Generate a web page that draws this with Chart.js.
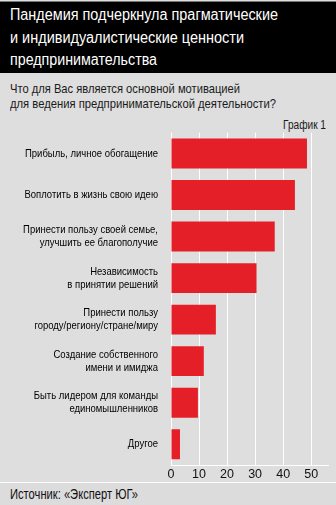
<!DOCTYPE html>
<html><head><meta charset="utf-8">
<script src="https://cdn.jsdelivr.net/npm/chart.js@4"></script>
<style>
html,body{margin:0;padding:0;}
body{width:336px;height:505px;background:#dedede;position:relative;overflow:hidden;font-family:"Liberation Sans",Arial,sans-serif;}
#head{position:absolute;left:0;top:1px;width:336px;height:71px;background:#000;border-top:1px solid #777;}
#head div{position:absolute;left:10px;color:#fff;font-size:16px;white-space:nowrap;transform-origin:0 0;}
.sub{position:absolute;left:10px;color:#1a1a1a;font-size:13.5px;white-space:nowrap;transform-origin:0 0;}
#gr{position:absolute;left:283px;top:118px;font-size:12.5px;color:#1a1a1a;white-space:nowrap;transform-origin:0 0;}
#foot{position:absolute;left:0;top:482px;width:336px;height:23px;border-top:1.5px solid #fff;background:#dcdcdc;}
#foot span{position:absolute;left:10px;top:3px;font-size:14px;color:#111;white-space:nowrap;transform-origin:0 0;}
#wrap{position:absolute;left:0;top:120px;width:336px;height:365px;}
</style></head>
<body>
<div id="head">
<div class="fit" data-w="268" style="top:4px">Пандемия подчеркнула прагматические</div>
<div class="fit" data-w="234" style="top:27px">и индивидуалистические ценности</div>
<div class="fit" data-w="147" style="top:49px">предпринимательства</div>
</div>
<div class="sub fit" data-w="230" style="top:81px">Что для Вас является основной мотивацией</div>
<div class="sub fit" data-w="266" style="top:96px">для ведения предпринимательской деятельности?</div>
<div id="gr" class="fit" data-w="43">График 1</div>
<div id="wrap"><canvas id="c"></canvas></div>
<div id="foot"><span class="fit" data-w="128">Источник: «Эксперт ЮГ»</span></div>
<script>
const categories = [
  ["Прибыль, личное обогащение"],
  ["Воплотить в жизнь свою идею"],
  ["Принести пользу своей семье,", "улучшить ее благополучие"],
  ["Независимость", "в принятии решений"],
  ["Принести пользу", "городу/региону/стране/миру"],
  ["Создание собственного", "имени и имиджа"],
  ["Быть лидером для команды", "единомышленников"],
  ["Другое"]
];
const values = [48.5, 44.2, 37, 30.5, 16, 11.7, 9.6, 3.2];
const xTicks = [0, 10, 20, 30, 40, 50];

// condense HTML text horizontally to the reference widths
document.querySelectorAll('.fit').forEach(el => {
  const w = el.getBoundingClientRect().width;
  el.style.transform = 'scaleX(' + (parseFloat(el.dataset.w) / w) + ')';
});

const FONT = '"Liberation Sans", Arial, sans-serif';
const LABEL_SIZE = 11.5;
// horizontal condensing factor for category labels (reference uses a narrow face)
const mctx = document.createElement('canvas').getContext('2d');
mctx.font = LABEL_SIZE + 'px ' + FONT;
const LABEL_SQUEEZE = 133 / mctx.measureText(categories[0][0]).width;

const narrowLabels = {
  id: 'narrowLabels',
  afterLayout(chart) {
    const s = chart.scales.y;
    if (s._narrowed) return;
    s._narrowed = true;
    const orig = s.drawLabels.bind(s);
    s.drawLabels = function (area) {
      const ctx = this.ctx;
      const f = ctx.fillText;
      ctx.fillText = function (t, x, y, m) {
        ctx.save();
        ctx.translate(x, y);
        ctx.scale(LABEL_SQUEEZE, 1);
        f.call(ctx, t, 0, 0, m);
        ctx.restore();
      };
      orig(area);
      ctx.fillText = f;
    };
  }
};

new Chart(document.getElementById('c'), {
  type: 'bar',
  data: {
    labels: categories,
    datasets: [{
      data: values,
      backgroundColor: '#e51f28',
      borderWidth: 0,
      categoryPercentage: 0.72,
      barPercentage: 1
    }]
  },
  plugins: [narrowLabels],
  options: {
    indexAxis: 'y',
    responsive: true,
    maintainAspectRatio: false,
    animation: false,
    layout: { padding: { top: 12.7, right: 8, left: 0, bottom: 0 } },
    plugins: { legend: { display: false }, tooltip: { enabled: false } },
    scales: {
      x: {
        min: 0, max: 56,
        afterFit: s => { s.height = 20; },
        afterBuildTicks: s => { s.ticks = xTicks.map(v => ({ value: v })); },
        ticks: { color: '#111', padding: 2, font: { family: FONT, size: 12.5 } },
        grid: { color: '#ffffff', lineWidth: 1, drawTicks: false },
        border: { display: true, color: '#ffffff', width: 1 }
      },
      y: {
        afterFit: s => { s.width = 171; },
        ticks: { color: '#000', padding: 5, font: { family: FONT, size: LABEL_SIZE, lineHeight: 1.15 } },
        grid: { display: false },
        border: { display: false }
      }
    }
  }
});
</script>
</body></html>
